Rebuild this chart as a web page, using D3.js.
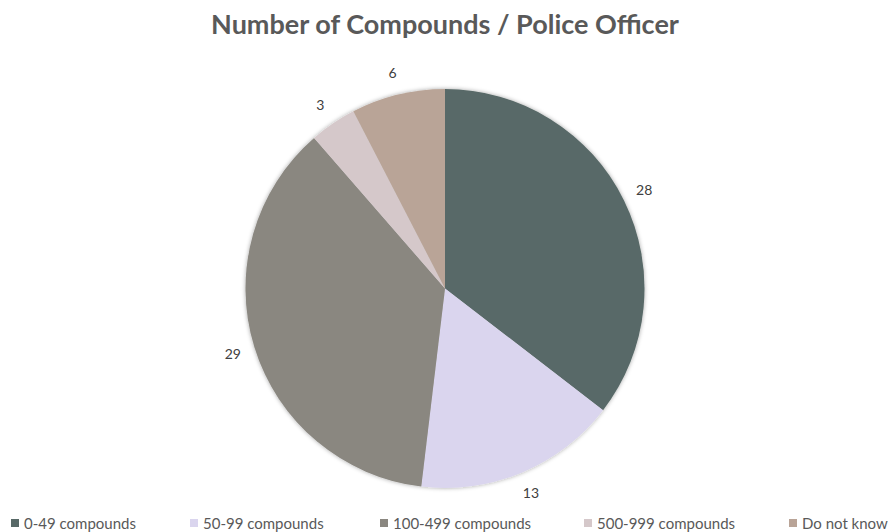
<!DOCTYPE html>
<html>
<head>
<meta charset="utf-8">
<script src="https://cdn.jsdelivr.net/npm/d3@7"></script>
<style>
body{margin:0;background:#fff}
svg{display:block}
</style>
</head>
<body>
<svg></svg>
<script>
var categories=["0-49 compounds","50-99 compounds","100-499 compounds","500-999 compounds","Do not know"]
var counts=[28,13,29,3,6]
var colours=["#586967","#dad5ee","#8a8780","#d5c8ca","#b9a497"]
var legendX=[11,190,380,584,789]

var screen={width:888,height:532}
var cx=445, cy=288.5, radius=199.5

var svg=d3.select("svg")
  .attr("width",screen.width)
  .attr("height",screen.height)

var defs=svg.append("defs")
var f=defs.append("filter").attr("id","shadow")
  .attr("x","-10%").attr("y","-10%").attr("width","120%").attr("height","120%")
f.append("feDropShadow")
  .attr("dx",0).attr("dy",0).attr("stdDeviation",2)
  .attr("flood-color","#000").attr("flood-opacity",0.35)

svg.append("text")
  .attr("x",445)
  .attr("y",34)
  .attr("text-anchor","middle")
  .attr("font-family","Lato, 'Open Sans', sans-serif")
  .attr("font-weight","bold")
  .attr("font-size",27)
  .attr("fill","#595959")
  .text("Number of Compounds / Police Officer")

var data=categories.map(function(c,i){return {name:c,value:counts[i],colour:colours[i]}})

var pie=d3.pie().sort(null).value(function(d){return d.value})
var arc=d3.arc().innerRadius(0).outerRadius(radius)
var labelArc=d3.arc().innerRadius(222).outerRadius(222)

var g=svg.append("g").attr("transform","translate("+cx+","+cy+")")

g.append("g").attr("filter","url(#shadow)")
  .selectAll("path")
  .data(pie(data))
  .enter()
  .append("path")
  .attr("d",arc)
  .attr("fill",function(d){return d.data.colour})

g.selectAll("text")
  .data(pie(data))
  .enter()
  .append("text")
  .attr("transform",function(d){return "translate("+labelArc.centroid(d)+")"})
  .attr("text-anchor","middle")
  .attr("dy","0.35em")
  .attr("font-family","Lato, 'Open Sans', sans-serif")
  .attr("font-size",14)
  .attr("fill","#404040")
  .text(function(d){return d.data.value})

var leg=svg.append("g")
  .selectAll("g")
  .data(data)
  .enter()
  .append("g")
  .attr("transform",function(d,i){return "translate("+legendX[i]+",0)"})
leg.append("rect")
  .attr("x",0).attr("y",519).attr("width",8).attr("height",8)
  .attr("fill",function(d){return d.colour})
leg.append("text")
  .attr("x",13)
  .attr("y",529)
  .attr("font-family","Lato, 'Open Sans', sans-serif")
  .attr("font-size",15)
  .attr("fill","#595959")
  .text(function(d){return d.name})
</script>
</body>
</html>
